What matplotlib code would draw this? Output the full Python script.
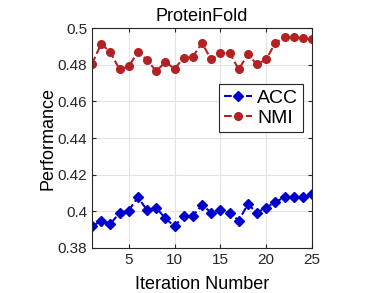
import matplotlib
matplotlib.use("Agg")
import matplotlib.pyplot as plt

iterations = list(range(1, 26))
acc = [0.3917, 0.3949, 0.3931, 0.3991, 0.4004, 0.4076, 0.4007, 0.4018, 0.3962, 0.3917,
       0.3975, 0.3975, 0.4034, 0.3993, 0.4007, 0.3993, 0.3949, 0.4038, 0.3993, 0.4020,
       0.4051, 0.4076, 0.4076, 0.4076, 0.4092]
nmi = [0.4805, 0.4915, 0.4867, 0.4775, 0.4791, 0.4869, 0.4827, 0.4764, 0.4815, 0.4778,
       0.4838, 0.4845, 0.4918, 0.4829, 0.4864, 0.4865, 0.4775, 0.4856, 0.4802, 0.4829,
       0.4920, 0.4949, 0.4949, 0.4945, 0.4938]
xticks = [5, 10, 15, 20, 25]
yticks = [0.38, 0.40, 0.42, 0.44, 0.46, 0.48, 0.50]
ytick_labels = ['0.38', '0.4', '0.42', '0.44', '0.46', '0.48', '0.5']

plt.rcParams['font.family'] = ['Liberation Sans', 'DejaVu Sans']

fig = plt.figure(figsize=(3.9, 2.93), dpi=100)
ax = fig.add_axes([0.236, 0.154, 0.564, 0.75])

ax.plot(iterations, acc, linestyle='--', color='#0000cc', marker='D',
        markersize=5, linewidth=1.5, label='ACC')
ax.plot(iterations, nmi, linestyle='--', color='#b22222', marker='o',
        markersize=5.5, linewidth=1.5, label='NMI')

ax.set_xlim(1, 25)
ax.set_ylim(0.38, 0.5)
ax.set_xticks(xticks)
ax.set_yticks(yticks)
ax.set_yticklabels(ytick_labels)
ax.grid(True, color='#e3e3e3', linewidth=0.8)
ax.set_axisbelow(True)
for s in ax.spines.values():
    s.set_color('#262626')
    s.set_linewidth(0.8)
ax.tick_params(direction='in', length=3, labelsize=11, colors='#262626',
               top=True, right=True)

ax.set_title('ProteinFold', fontsize=13, pad=5)
ax.set_xlabel('Iteration Number', fontsize=13, labelpad=7)
ax.set_ylabel('Performance', fontsize=13, labelpad=1)

leg = ax.legend(loc='upper right', bbox_to_anchor=(0.96, 0.745), fontsize=14,
                fancybox=False, edgecolor='#262626', framealpha=1,
                handlelength=1.4, handletextpad=0.3, borderpad=0.25,
                labelspacing=0.15, borderaxespad=0)
leg.get_frame().set_linewidth(0.8)

fig.savefig('out.png', dpi=100)
